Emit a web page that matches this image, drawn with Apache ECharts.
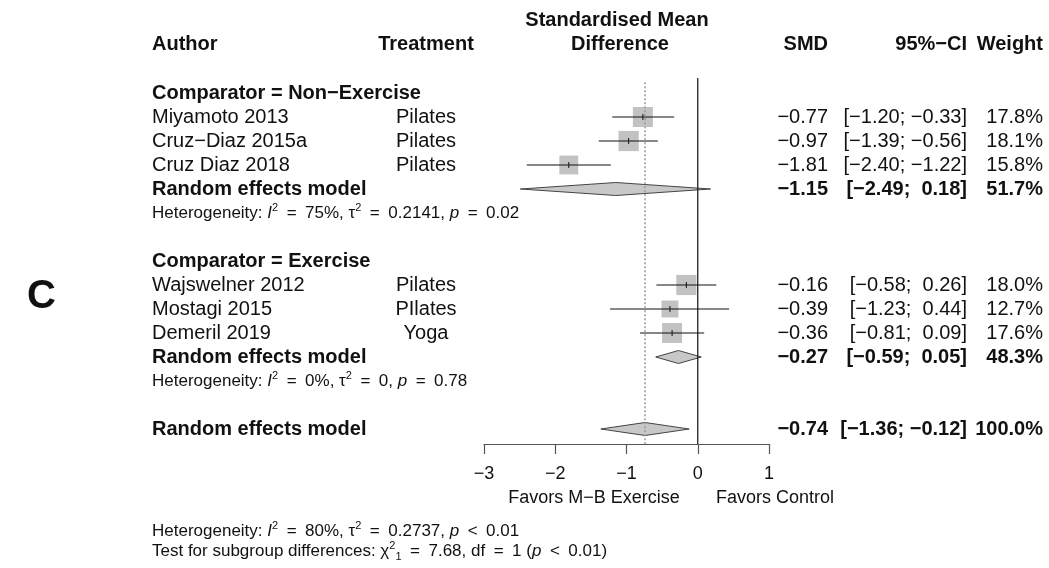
<!DOCTYPE html>
<html lang="en">
<head>
<meta charset="UTF-8">
<title>Forest plot</title>
<script src="https://cdn.jsdelivr.net/npm/echarts@6/dist/echarts.min.js"></script>
</head>
<body style="margin:0;background:#fff">
<div id="main" style="width:1049px;height:568px;"></div>
<script>
// individual studies
var authors = ['Miyamoto 2013', 'Cruz−Diaz 2015a', 'Cruz Diaz 2018', 'Wajswelner 2012', 'Mostagi 2015', 'Demeril 2019'];
var treatments = ['Pilates', 'Pilates', 'Pilates', 'Pilates', 'PIlates', 'Yoga'];
var smd = [-0.77, -0.97, -1.81, -0.16, -0.39, -0.36];
var ciLow = [-1.20, -1.39, -2.40, -0.58, -1.23, -0.81];
var ciHigh = [-0.33, -0.56, -1.22, 0.26, 0.44, 0.09];
var weights = [17.8, 18.1, 15.8, 18.0, 12.7, 17.6];
var studyRows = [1, 2, 3, 8, 9, 10];

// pooled estimates (two subgroups + overall)
var pooledLabels = ['Random effects model', 'Random effects model', 'Random effects model'];
var pooledSmd = [-1.15, -0.27, -0.74];
var pooledLow = [-2.49, -0.59, -1.36];
var pooledHigh = [0.18, 0.05, -0.12];
var pooledWeights = [51.7, 48.3, 100.0];
var pooledRows = [4, 11, 14];

// subgroup headers and heterogeneity lines (en spaces around relations, like plotmath)
var groupLabels = ['Comparator = Non−Exercise', 'Comparator = Exercise'];
var groupRows = [0, 7];
var hetLabels = [
    'Heterogeneity: {i|I}{s|2}\u2002=\u200275%, τ{s|2}\u2002=\u20020.2141, {i|p}\u2002=\u20020.02',
    'Heterogeneity: {i|I}{s|2}\u2002=\u20020%, τ{s|2}\u2002=\u20020, {i|p}\u2002=\u20020.78'
];
var hetRows = [5, 12];
var overallHet = 'Heterogeneity: {i|I}{s|2}\u2002=\u200280%, τ{s|2}\u2002=\u20020.2737, {i|p}\u2002<\u20020.01';
var subgroupTest = 'Test for subgroup differences: χ{s|2}{b|1}\u2002=\u20027.68, df\u2002=\u20021 ({i|p}\u2002<\u20020.01)';

var overallLine = -0.74;

var FONT = '"Liberation Sans", Arial, sans-serif';
var INK = '#111';
var SIZE = 20;
var SMALL = 17;

function num(v) {
    return (v < 0 ? '−' : '') + Math.abs(v).toFixed(2);
}
function ci(lo, hi) {
    var a = (lo < 0 ? '' : ' ') + num(lo);
    var b = (hi < 0 ? '' : ' ') + num(hi);
    return '[' + a + '; ' + b + ']';
}
function txt(x, y, s, align, bold, size) {
    return {
        type: 'text', x: x, y: y,
        style: {
            text: s, fill: INK, align: align || 'left', verticalAlign: 'middle',
            fontFamily: FONT, fontSize: size || SIZE, fontWeight: bold ? 'bold' : 'normal'
        }
    };
}
var smallRich = {
    i: { fontStyle: 'italic', fontSize: SMALL, fontFamily: FONT, fill: INK },
    s: { fontSize: 11, fontFamily: FONT, fill: INK, verticalAlign: 'top', lineHeight: 22 },
    b: { fontSize: 11, fontFamily: FONT, fill: INK, verticalAlign: 'bottom', lineHeight: 22 }
};
function richTxt(x, y, s) {
    return {
        type: 'text', x: x, y: y,
        style: {
            text: s, fill: INK, align: 'left', verticalAlign: 'middle',
            fontFamily: FONT, fontSize: SMALL, rich: smallRich
        }
    };
}

var myChart = echarts.init(document.getElementById('main'));

myChart.setOption({
    animation: false,
    grid: { left: 484, right: 280, top: 78, bottom: 124 },
    xAxis: {
        type: 'value', min: -3, max: 1, interval: 1, position: 'bottom',
        splitLine: { show: false },
        axisLine: { onZero: false, lineStyle: { color: '#555', width: 1.2 } },
        axisTick: { length: 10, lineStyle: { color: '#555', width: 1.2 } },
        axisLabel: {
            margin: 21, fontSize: 18, color: INK, fontFamily: FONT,
            formatter: function (v) { return v < 0 ? '−' + Math.abs(v) : String(v); }
        }
    },
    yAxis: { type: 'value', min: -0.625, max: 14.625, inverse: true, show: false },
    series: [
        {
            type: 'line', silent: true, symbol: 'none',
            data: [[0, -0.625], [0, 14.625]],
            lineStyle: { color: INK, width: 1.2 }
        },
        {
            type: 'line', silent: true, symbol: 'none',
            data: [[overallLine, -0.45], [overallLine, 14.625]],
            lineStyle: { color: '#999', width: 1.5, type: [2, 2] }
        },
        {
            type: 'custom', silent: true,
            data: authors.map(function (a, i) {
                return [smd[i], studyRows[i], ciLow[i], ciHigh[i], weights[i]];
            }),
            renderItem: function (params, api) {
                var i = params.dataIndex;
                var c = api.coord([api.value(0), api.value(1)]);
                var lo = api.coord([api.value(2), api.value(1)]);
                var hi = api.coord([api.value(3), api.value(1)]);
                var s = 4.75 * Math.sqrt(api.value(4));
                var y = c[1];
                return {
                    type: 'group', children: [
                        { type: 'rect', shape: { x: c[0] - s / 2, y: y - s / 2, width: s, height: s }, style: { fill: '#c2c2c2' } },
                        { type: 'line', shape: { x1: lo[0], y1: y, x2: hi[0], y2: y }, style: { stroke: INK, lineWidth: 1.2 } },
                        { type: 'line', shape: { x1: c[0], y1: y - 3, x2: c[0], y2: y + 3 }, style: { stroke: INK, lineWidth: 1 } },
                        txt(152, y, authors[i]),
                        txt(426, y, treatments[i], 'center'),
                        txt(828, y, num(smd[i]), 'right'),
                        txt(967, y, ci(ciLow[i], ciHigh[i]), 'right'),
                        txt(1043, y, weights[i].toFixed(1) + '%', 'right')
                    ]
                };
            }
        },
        {
            type: 'custom', silent: true,
            data: pooledSmd.map(function (v, i) {
                return [v, pooledRows[i], pooledLow[i], pooledHigh[i]];
            }),
            renderItem: function (params, api) {
                var i = params.dataIndex;
                var c = api.coord([api.value(0), api.value(1)]);
                var lo = api.coord([api.value(2), api.value(1)]);
                var hi = api.coord([api.value(3), api.value(1)]);
                var y = c[1];
                return {
                    type: 'group', children: [
                        {
                            type: 'polygon',
                            shape: { points: [[lo[0], y], [c[0], y - 6.5], [hi[0], y], [c[0], y + 6.5]] },
                            style: { fill: '#c8c8c8', stroke: '#444', lineWidth: 1 }
                        },
                        txt(152, y, pooledLabels[i], 'left', true),
                        txt(828, y, num(pooledSmd[i]), 'right', true),
                        txt(967, y, ci(pooledLow[i], pooledHigh[i]), 'right', true),
                        txt(1043, y, pooledWeights[i].toFixed(1) + '%', 'right', true)
                    ]
                };
            }
        },
        {
            type: 'custom', silent: true,
            data: groupRows.map(function (r) { return [0, r]; }),
            renderItem: function (params, api) {
                var y = api.coord([0, api.value(1)])[1];
                return txt(152, y, groupLabels[params.dataIndex], 'left', true);
            }
        },
        {
            type: 'custom', silent: true,
            data: hetRows.map(function (r) { return [0, r]; }),
            renderItem: function (params, api) {
                var y = api.coord([0, api.value(1)])[1];
                return richTxt(152, y, hetLabels[params.dataIndex]);
            }
        }
    ],
    graphic: [
        txt(27, 297, 'C', 'left', true, 40),
        txt(152, 44, 'Author', 'left', true),
        txt(426, 44, 'Treatment', 'center', true),
        txt(617, 20, 'Standardised Mean', 'center', true),
        txt(620, 44, 'Difference', 'center', true),
        txt(828, 44, 'SMD', 'right', true),
        txt(967, 44, '95%−CI', 'right', true),
        txt(1043, 44, 'Weight', 'right', true),
        txt(594, 498, 'Favors M−B Exercise', 'center', false, 18),
        txt(775, 498, 'Favors Control', 'center', false, 18),
        richTxt(152, 531, overallHet),
        richTxt(152, 551, subgroupTest)
    ]
});
</script>
</body>
</html>
